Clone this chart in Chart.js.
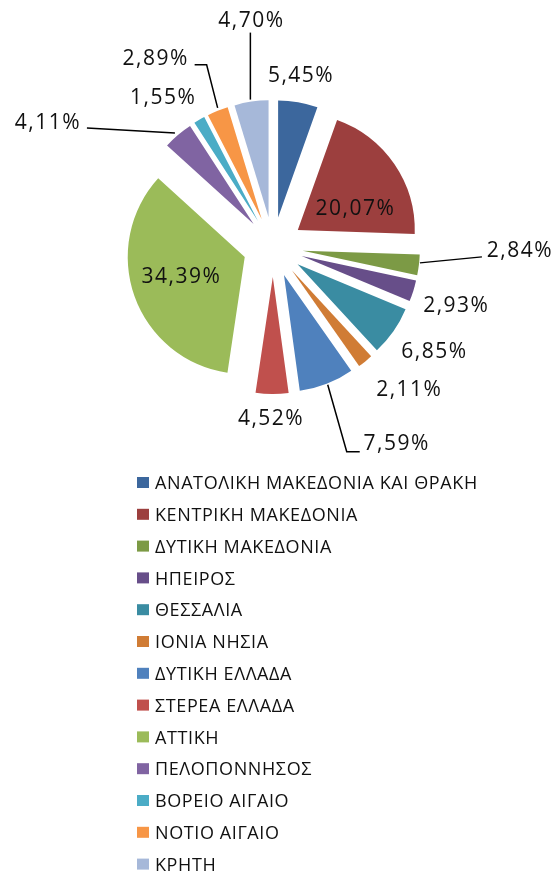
<!DOCTYPE html>
<html>
<head>
<meta charset="utf-8">
<script src="https://cdn.jsdelivr.net/npm/chart.js@4.4.1/dist/chart.umd.min.js"></script>
<style>
  html, body { margin: 0; padding: 0; background: #fff; }
  #wrap { width: 555px; height: 879px; position: relative; }
</style>
</head>
<body>
<div id="wrap"><canvas id="regionsPie"></canvas></div>
<script>
// regions of Greece and their share (%)
var regions = [
  'ΑΝΑΤΟΛΙΚΗ ΜΑΚΕΔΟΝΙΑ ΚΑΙ ΘΡΑΚΗ',
  'ΚΕΝΤΡΙΚΗ ΜΑΚΕΔΟΝΙΑ',
  'ΔΥΤΙΚΗ ΜΑΚΕΔΟΝΙΑ',
  'ΗΠΕΙΡΟΣ',
  'ΘΕΣΣΑΛΙΑ',
  'ΙΟΝΙΑ ΝΗΣΙΑ',
  'ΔΥΤΙΚΗ ΕΛΛΑΔΑ',
  'ΣΤΕΡΕΑ ΕΛΛΑΔΑ',
  'ΑΤΤΙΚΗ',
  'ΠΕΛΟΠΟΝΝΗΣΟΣ',
  'ΒΟΡΕΙΟ ΑΙΓΑΙΟ',
  'ΝΟΤΙΟ ΑΙΓΑΙΟ',
  'ΚΡΗΤΗ'
];
var shares = [5.45, 20.07, 2.84, 2.93, 6.85, 2.11, 7.59, 4.52, 34.39, 4.11, 1.55, 2.89, 4.70];

var sliceColors = ['#3c679d', '#9c3f3e', '#7c9a45', '#674e89', '#3a8ca2', '#d07c35',
  '#4f81bd', '#c0504d', '#9bbb59', '#8064a2', '#4bacc6', '#f79646', '#a6b8d9'];

// label placement relative to the exploded slice's outer mid point
var labelShift = [[2,-27],[-40,44],[100,-15],[42,14],[40,20],[43,28],[69,59],
  [-2,24],[46,-20],[-131,-13],[-37,-23],[-63,-53],[-1,-82]];
// leader lines (same reference point), null = no line
var leaders = [null, null, [[1,-2],[63,-8]], null, null, null, [[1,1],[20,68],[33,68]],
  null, null, [[-3,-2],[-91,-7]], null, [[0,-3],[-11,-46],[-23,-46]], [[-1,-2],[-1,-69]]];

var EXPLODE = 30;
var RADIUS = 117;

function pctText(v) {
  return v.toFixed(2).replace('.', ',') + '%';
}

// draw each arc pushed out along its bisector
var explodePlugin = {
  id: 'explode',
  beforeDatasetDraw: function(chart, args) {
    var ctx = chart.ctx;
    args.meta.data.forEach(function(arc) {
      var mid = (arc.startAngle + arc.endAngle) / 2;
      ctx.save();
      ctx.translate(Math.cos(mid) * EXPLODE, Math.sin(mid) * EXPLODE);
      arc.draw(ctx);
      ctx.restore();
    });
    return false;
  },
  afterDraw: function(chart) {
    var ctx = chart.ctx;
    var arcs = chart.getDatasetMeta(0).data;
    ctx.save();
    // leader lines
    ctx.strokeStyle = '#000';
    ctx.lineWidth = 1.5;
    arcs.forEach(function(arc, i) {
      if (!leaders[i]) return;
      var mid = (arc.startAngle + arc.endAngle) / 2;
      var bx = arc.x + Math.cos(mid) * (arc.outerRadius + EXPLODE);
      var by = arc.y + Math.sin(mid) * (arc.outerRadius + EXPLODE);
      ctx.beginPath();
      leaders[i].forEach(function(p, k) {
        if (k === 0) ctx.moveTo(bx + p[0], by + p[1]);
        else ctx.lineTo(bx + p[0], by + p[1]);
      });
      ctx.stroke();
    });
    // percentage labels
    ctx.font = '21px "Open Sans"';
    ctx.letterSpacing = '1.5px';
    ctx.fillStyle = '#111';
    ctx.textAlign = 'center';
    ctx.textBaseline = 'middle';
    arcs.forEach(function(arc, i) {
      var mid = (arc.startAngle + arc.endAngle) / 2;
      var bx = arc.x + Math.cos(mid) * (arc.outerRadius + EXPLODE);
      var by = arc.y + Math.sin(mid) * (arc.outerRadius + EXPLODE);
      ctx.fillText(pctText(shares[i]), bx + labelShift[i][0] + 1, by + labelShift[i][1] + 1);
    });
    // legend, one column
    ctx.font = '18px "Open Sans"';
    ctx.letterSpacing = '0.6px';
    ctx.textAlign = 'left';
    var colors = chart.data.datasets[0].backgroundColor;
    chart.data.labels.forEach(function(lab, i) {
      var y = 483 + i * 31.8;
      ctx.fillStyle = colors[i];
      ctx.fillRect(137, y - 6, 12, 11);
      ctx.fillStyle = '#111';
      ctx.fillText(lab, 155, y + 1);
    });
    ctx.restore();
  }
};

var ctx = document.getElementById('regionsPie').getContext('2d');
var regionsPie = new Chart(ctx, {
  type: 'pie',
  data: {
    labels: regions,
    datasets: [{
      data: shares,
      backgroundColor: sliceColors,
      borderWidth: 0
    }]
  },
  options: {
    responsive: true,
    maintainAspectRatio: false,
    animation: false,
    radius: RADIUS,
    layout: {
      padding: { left: 0, right: 9, top: 0, bottom: 385 }
    },
    plugins: {
      legend: { display: false },
      tooltip: { enabled: false }
    }
  },
  plugins: [explodePlugin]
});
</script>
</body>
</html>
